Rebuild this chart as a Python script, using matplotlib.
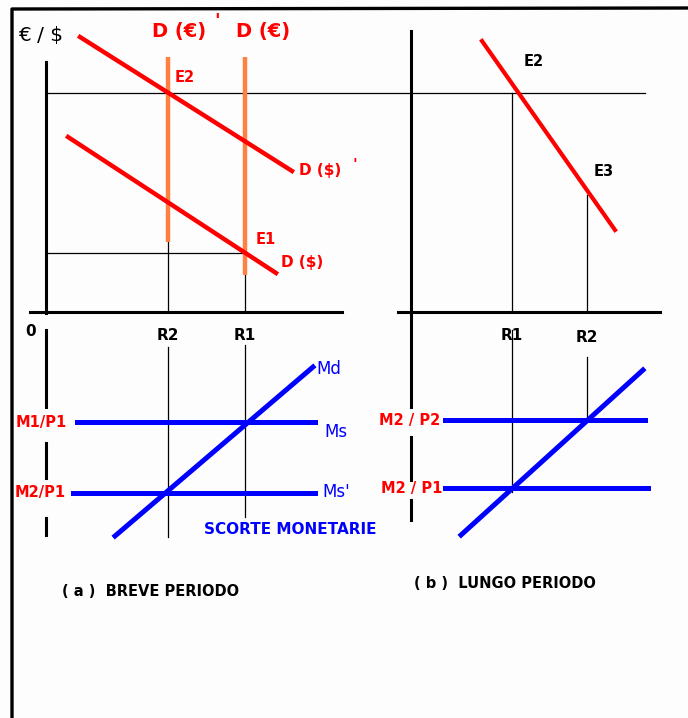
import matplotlib
matplotlib.use("Agg")
import matplotlib.pyplot as plt

# diagram drawn in a pixel-like coordinate system (x right, y down)
RED = "#ff0000"
BLUE = "#0000ff"
ORANGE = "#ff8040"

# ---- panel (a), upper: exchange rate vs returns
axis_a_x = [30, 342]
axis_a_y = [62, 313]
orig_y = 312
dollar_dem_new_x = [80, 292]
dollar_dem_new_y = [37, 171]
dollar_dem_old_x = [68, 276]
dollar_dem_old_y = [137, 273]
euro_ret_x = [168, 245]          # R2, R1
euro_ret_top = 57
euro_ret_bottom = [242, 275]
e2_level = 93
e1_level = 253

# ---- panel (b), upper
axis_b_y_x = 411
axis_b_x = [398, 660]
dollar_dem_long_x = [482, 615]
dollar_dem_long_y = [41, 230]
rb_x = [512, 587]                # R1, R2
rb_top = [93, 195]

# ---- money market, lower panels
ms_levels_a = [422, 493]         # M1/P1, M2/P1
ms_x_a = [[77, 315], [73, 315]]
md_a_x = [115, 313]
md_a_y = [536, 367]
ms_levels_b = [420, 488]         # M2/P2, M2/P1
ms_x_b = [[445, 645], [445, 648]]
md_b_x = [461, 643]
md_b_y = [535, 370]

fig = plt.figure(figsize=(6.88, 7.18), dpi=100, facecolor="#fdfdfd")
ax = fig.add_axes([0, 0, 1, 1])
ax.set_xlim(0, 688)
ax.set_ylim(718, 0)
ax.axis("off")

# frame
ax.plot([12, 12, 688], [718, 9, 8], color="black", lw=2.4, solid_capstyle="butt")

bold = dict(fontweight="bold", family="DejaVu Sans")

# ---------- panel (a) upper
ax.plot([46, 46], axis_a_y, color="black", lw=2.2)
ax.plot(axis_a_x, [orig_y, orig_y], color="black", lw=2.2)
ax.plot([46, 645], [e2_level, e2_level], color="black", lw=0.9)
ax.plot([46, euro_ret_x[1]], [e1_level, e1_level], color="black", lw=0.9)
for x, yb in zip(euro_ret_x, euro_ret_bottom):
    ax.plot([x, x], [yb, orig_y], color="black", lw=0.9)
    ax.plot([x, x], [euro_ret_top, yb], color=ORANGE, lw=3.2, solid_capstyle="butt")
ax.plot(dollar_dem_new_x, dollar_dem_new_y, color=RED, lw=3.2)
ax.plot(dollar_dem_old_x, dollar_dem_old_y, color=RED, lw=3.2)

ax.text(18, 35, "€ / $", fontsize=14.5, ha="left", va="center", color="black")
ax.text(152, 32, "D (€)", fontsize=14, ha="left", va="center", color=RED, **bold)
ax.text(214, 21, "'", fontsize=13, ha="left", va="center", color=RED, **bold)
ax.text(236, 32, "D (€)", fontsize=14, ha="left", va="center", color=RED, **bold)
ax.text(175, 77, "E2", fontsize=10.5, ha="left", va="center", color=RED, **bold)
ax.text(256, 239, "E1", fontsize=10.5, ha="left", va="center", color=RED, **bold)
ax.text(299, 171, "D ($)", fontsize=11, ha="left", va="center", color=RED, **bold)
ax.text(353, 165, "'", fontsize=11, ha="left", va="center", color=RED, **bold)
ax.text(281, 263, "D ($)", fontsize=11, ha="left", va="center", color=RED, **bold)
ax.text(31, 332, "0", fontsize=11, ha="center", va="center", color="black", **bold)
ax.text(euro_ret_x[0], 336, "R2", fontsize=11, ha="center", va="center", **bold)
ax.text(euro_ret_x[1], 335, "R1", fontsize=11, ha="center", va="center", **bold)

# ---------- panel (b) upper
ax.plot([axis_b_y_x, axis_b_y_x], [31, 407], color="black", lw=2.2)
ax.plot(axis_b_x, [orig_y, orig_y], color="black", lw=2.2)
for x, yt in zip(rb_x, rb_top):
    ax.plot([x, x], [yt, orig_y], color="black", lw=0.9)
ax.plot(dollar_dem_long_x, dollar_dem_long_y, color=RED, lw=3.0)
ax.text(524, 62, "E2", fontsize=10.5, ha="left", va="center", color="black", **bold)
ax.text(594, 172, "E3", fontsize=10.5, ha="left", va="center", color="black", **bold)
ax.text(rb_x[0], 335, "R1", fontsize=11, ha="center", va="center", **bold)
ax.text(rb_x[1], 338, "R2", fontsize=11, ha="center", va="center", **bold)

# ---------- panel (a) lower
for y0, y1 in [(330, 407), (443, 478), (518, 535)]:
    ax.plot([46, 46], [y0, y1], color="black", lw=2.2)
ax.plot([euro_ret_x[0], euro_ret_x[0]], [347, 537], color="black", lw=0.9)
ax.plot([euro_ret_x[1], euro_ret_x[1]], [345, 517], color="black", lw=0.9)
for lev, xs in zip(ms_levels_a, ms_x_a):
    ax.plot(xs, [lev, lev], color=BLUE, lw=3.6)
ax.plot(md_a_x, md_a_y, color=BLUE, lw=3.6)
ax.text(41, 422, "M1/P1", fontsize=10.5, ha="center", va="center", color=RED, **bold)
ax.text(40, 493, "M2/P1", fontsize=10.5, ha="center", va="center", color=RED, **bold)
ax.text(316, 369, "Md", fontsize=12, ha="left", va="center", color=BLUE)
ax.text(324, 432, "Ms", fontsize=12, ha="left", va="center", color=BLUE)
ax.text(322, 492, "Ms'", fontsize=12, ha="left", va="center", color=BLUE)
ax.text(204, 530, "SCORTE MONETARIE", fontsize=11, ha="left", va="center", color=BLUE, **bold)
ax.text(62, 592, "( a )  BREVE PERIODO", fontsize=10.5, ha="left", va="center", color="black", **bold)

# ---------- panel (b) lower
for y0, y1 in [(437, 480), (500, 520)]:
    ax.plot([axis_b_y_x, axis_b_y_x], [y0, y1], color="black", lw=2.2)
ax.plot([rb_x[0], rb_x[0]], [330, 492], color="black", lw=0.9)
ax.plot([rb_x[1], rb_x[1]], [357, 420], color="black", lw=0.9)
for lev, xs in zip(ms_levels_b, ms_x_b):
    ax.plot(xs, [lev, lev], color=BLUE, lw=3.6)
ax.plot(md_b_x, md_b_y, color=BLUE, lw=3.6)
ax.text(410, 420, "M2 / P2", fontsize=10.5, ha="center", va="center", color=RED, **bold)
ax.text(412, 488, "M2 / P1", fontsize=10.5, ha="center", va="center", color=RED, **bold)
ax.text(414, 583, "( b )  LUNGO PERIODO", fontsize=10.5, ha="left", va="center", color="black", **bold)

fig.savefig("out.png", dpi=100, facecolor=fig.get_facecolor())
